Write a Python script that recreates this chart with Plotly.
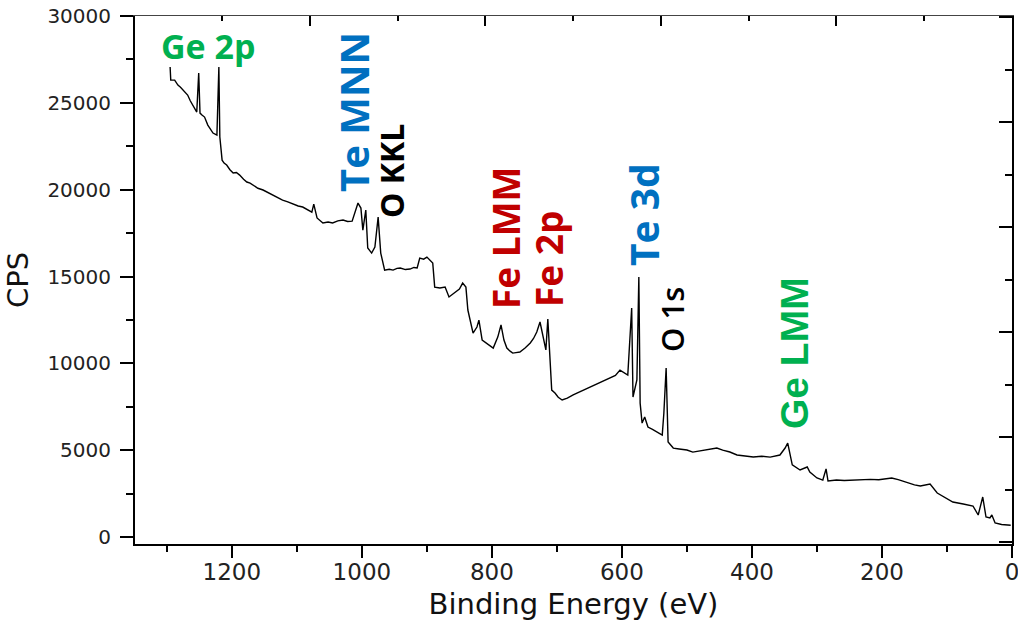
import plotly.graph_objects as go

# ---- data (binding energy in eV, counts per second) ----
be = [1295, 1294, 1288, 1283, 1279, 1275, 1271, 1268, 1264, 1260, 1254, 1251, 1249,
      1246, 1242, 1237, 1233, 1229, 1223, 1220, 1218.5, 1215, 1212, 1208, 1203, 1198,
      1193, 1188, 1182, 1177, 1172, 1168, 1160, 1152, 1145, 1137, 1130, 1122, 1114,
      1106, 1098, 1091, 1084, 1077, 1074, 1069, 1060, 1052, 1045, 1037, 1029, 1022,
      1015, 1011, 1006, 1001.5, 998.5, 994, 991, 985, 980, 975, 971, 965, 958, 952,
      946, 941, 933, 926, 920, 915, 911, 905, 900, 891, 888, 880, 872, 866, 857, 850,
      845, 840, 837, 831, 829, 823, 820, 815, 808, 803, 798, 791, 786, 781.5, 777,
      772, 768, 763, 757, 749, 741, 736, 731, 726, 721.5, 717, 714, 711, 708, 703,
      698, 692, 684, 675, 668, 660, 649, 640, 632, 623, 616, 610, 603, 597, 591, 585,
      583, 577, 575.5, 574, 572, 569, 565, 560, 553, 546, 538, 535.5, 532, 529, 521,
      512, 500, 491, 480, 470, 462, 454, 445, 434, 423, 412, 398, 385, 372, 357, 349,
      345, 338, 326, 315, 311, 300, 291, 286, 283, 270, 258, 245, 232, 218, 205, 192,
      185, 175, 161, 150, 141, 126, 115, 103, 91, 75, 60, 52, 45, 40, 34, 31, 26, 16,
      6, 2]
cps = [27060, 26310, 26310, 26020, 25900, 25730, 25600, 25450, 25120, 24870, 24470,
       26710, 24410, 24300, 24180, 23720, 23500, 23260, 23140, 27060, 23030, 21700,
       21530, 21420, 21150, 20960, 20990, 20840, 20600, 20440, 20380, 20270, 20080,
       19980, 19850, 19690, 19560, 19400, 19300, 19170, 19060, 19000, 18850, 18710,
       19170, 18370, 18080, 18140, 18080, 18200, 18250, 18170, 18190, 18650, 19230,
       18940, 17670, 18830, 16640, 16350, 16700, 18420, 16350, 15370, 15420, 15370,
       15470, 15490, 15400, 15430, 15520, 15490, 16060, 16000, 16120, 15770, 14390,
       14340, 14390, 13820, 14110, 14280, 14620, 14390, 13070, 11920, 11740, 12090,
       12490, 11340, 11170, 11050, 10880, 11510, 12210, 11340, 10880, 10700, 10590,
       10620, 10650, 10880, 11170, 11430, 11800, 12380, 11510, 10770, 12550, 10590,
       8460, 8290, 8050, 7890, 8000, 8180, 8300, 8440, 8640, 8780, 8900, 9040, 9180,
       9300, 9610, 9450, 9330, 13180, 8060, 9040, 13470, 14970, 7710, 6560, 6910,
       6330, 6200, 6050, 5870, 7140, 9730, 5470, 5120, 5070, 5010, 4890, 4960, 5030,
       5090, 5124, 5000, 4893, 4721, 4680, 4606, 4650, 4600, 4721, 5124, 5410, 4150,
       3860, 4030, 3740, 3400, 3280, 3920, 3224, 3280, 3250, 3282, 3300, 3320, 3300,
       3339, 3397, 3300, 3109, 3000, 2936, 3051, 2533, 2250, 2015, 1900, 1785, 1267,
       2303, 1151, 1094, 1267, 806, 720, 691, 680]

# peak labels
label_text = ["Ge 2p", "Te MNN", "O KKL", "Fe LMM", "Fe 2p", "Te 3d", "O 1s", "Ge LMM"]
label_kind = ["Ge", "Te", "O", "Fe", "Fe", "Te", "O", "Ge"]

x_range = [1349, 0]
y_range = [-403, 30000]
x_ticks = [0, 200, 400, 600, 800, 1000, 1200]
y_ticks = [0, 5000, 10000, 15000, 20000, 25000, 30000]

# ---- styling ----
W, H = 1018, 621
L, R, T, B = 135, 6, 16, 77
colors = {"Ge": "#00B050", "Te": "#0070C0", "Fe": "#C00000", "O": "#000000"}
# (centre px x, centre px y, font family, size, weight, angle)
label_style = [
    (208, 46, "Open Sans", 34, 700, 0),
    (354, 112, "Open Sans", 40, 700, -90),
    (391, 171, "Open Sans", 32, 700, -90),
    (506, 238, "Open Sans", 37, 700, -90),
    (548, 259, "Open Sans", 37, 700, -90),
    (643, 215, "Open Sans", 39, 700, -90),
    (672, 320, "Open Sans", 31, 600, -90),
    (795, 353, "Liberation Sans", 39, 700, -90),
]


def to_paper(px, py):
    return (px - L) / (W - L - R), (H - B - py) / (H - T - B)


fig = go.Figure()
fig.add_trace(go.Scatter(x=be, y=cps, mode="lines",
                         line=dict(color="black", width=1.4),
                         showlegend=False, hoverinfo="skip"))
fig.add_trace(go.Scatter(x=[], y=[], xaxis="x2", yaxis="y2",
                         showlegend=False, hoverinfo="skip"))

tickfont_x = dict(family="DejaVu Sans", size=23, color="#222")
tickfont_y = dict(family="DejaVu Sans", size=20, color="#222")

fig.update_layout(
    width=W, height=H,
    margin=dict(l=L, r=R, t=T, b=B),
    paper_bgcolor="white", plot_bgcolor="white",
    showlegend=False,
    xaxis=dict(range=x_range, tickmode="array", tickvals=x_ticks,
               ticktext=[str(v) for v in x_ticks],
               ticks="outside", ticklen=12, tickwidth=2, tickcolor="black",
               showline=True, linewidth=2, linecolor="black",
               showgrid=False, zeroline=False, automargin=False,
               tickfont=tickfont_x, ticklabelstandoff=-6,
               ticklabeloverflow="allow",
               minor=dict(tickmode="linear", tick0=0, dtick=100, ticks="outside",
                          ticklen=6, tickwidth=2, tickcolor="black", showgrid=False),
               title=dict(text="Binding Energy (eV)",
                          font=dict(family="DejaVu Sans", size=29, color="#111"),
                          standoff=12)),
    yaxis=dict(range=y_range, tickmode="array", tickvals=y_ticks,
               ticktext=[str(v) for v in y_ticks],
               ticks="outside", ticklen=13, tickwidth=2, tickcolor="black",
               showline=True, linewidth=2, linecolor="black",
               showgrid=False, zeroline=False, automargin=False,
               tickfont=tickfont_y, ticklabelstandoff=5,
               minor=dict(tickmode="linear", tick0=0, dtick=2500, ticks="outside",
                          ticklen=7, tickwidth=2, tickcolor="black", showgrid=False),
               title=dict(text="CPS",
                          font=dict(family="DejaVu Sans", size=29, color="#111"),
                          standoff=10)),
    xaxis2=dict(overlaying="x", side="top", anchor="y", range=x_range,
                tickmode="linear", tick0=0, dtick=270, ticks="inside",
                ticklen=10, tickwidth=2, tickcolor="black",
                showticklabels=False, showline=True, linewidth=1,
                linecolor="#444", showgrid=False, zeroline=False,
                minor=dict(tickmode="linear", tick0=0, dtick=135, ticks="inside",
                           ticklen=5, tickwidth=2, tickcolor="black", showgrid=False)),
    yaxis2=dict(overlaying="y", side="right", anchor="x", range=y_range,
                tickmode="linear", tick0=-290, dtick=6045, ticks="inside",
                ticklen=13, tickwidth=2, tickcolor="black",
                showticklabels=False, showline=True, linewidth=2,
                linecolor="black", showgrid=False, zeroline=False,
                minor=dict(tickmode="linear", tick0=-290, dtick=3022.5,
                           ticks="inside", ticklen=7, tickwidth=2,
                           tickcolor="black", showgrid=False)),
)

for text, kind, (px, py, fam, size, weight, ang) in zip(label_text, label_kind, label_style):
    xp, yp = to_paper(px, py)
    fig.add_annotation(x=xp, y=yp, xref="paper", yref="paper", text=text,
                       showarrow=False, textangle=ang, xanchor="center",
                       yanchor="middle",
                       font=dict(family=fam, size=size, weight=weight,
                                 color=colors[kind]))

fig.write_html("out.html")
